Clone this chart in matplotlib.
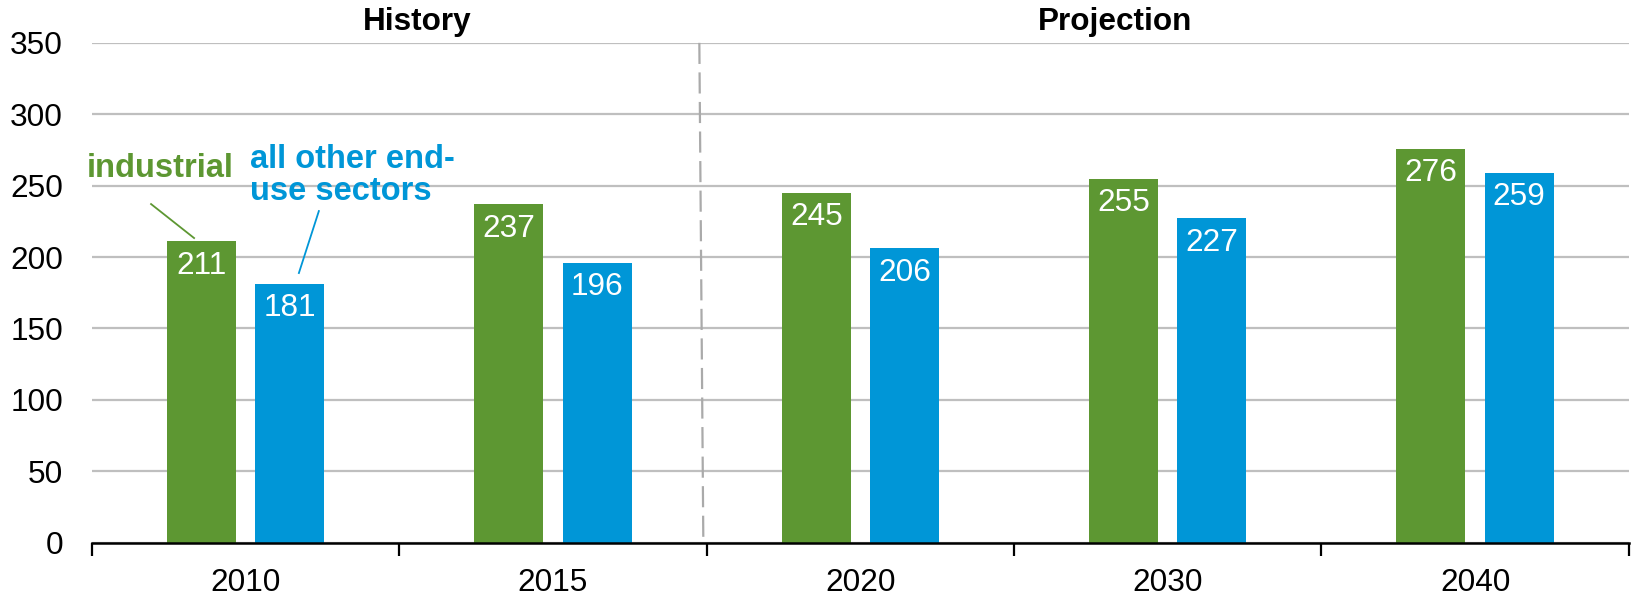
import matplotlib
matplotlib.use("Agg")
import matplotlib.pyplot as plt
from matplotlib.ticker import FixedLocator
import numpy as np

categories = ["2010", "2015", "2020", "2030", "2040"]
industrial = [211, 237, 245, 255, 276]
other_sectors = [181, 196, 206, 227, 259]
y_ticks = [0, 50, 100, 150, 200, 250, 300, 350]
section_labels = ["History", "Projection"]

GREEN = "#5D9732"
BLUE = "#0096D7"
GRID = "#BFBFBF"
FS = 22.7

plt.rcParams['font.family'] = ['Liberation Sans', 'DejaVu Sans']

fig = plt.figure(figsize=(16.32, 5.95), dpi=100)
ax = fig.add_axes([0.0564, 0.088, 0.9416, 0.840])

x = np.arange(len(categories))
w = 0.2245
off = 0.1435
b1 = ax.bar(x - off, industrial, width=w, color=GREEN, zorder=3)
b2 = ax.bar(x + off, other_sectors, width=w, color=BLUE, zorder=3)

for bars, vals in ((b1, industrial), (b2, other_sectors)):
    for r, v in zip(bars, vals):
        ax.annotate(str(v), (r.get_x() + r.get_width() / 2, v),
                    xytext=(0, -17.5), textcoords="offset points",
                    ha="center", va="center", color="white", fontsize=FS, zorder=4)

ax.set_xlim(-0.5, len(categories) - 0.5)
ax.set_ylim(0, 350)
ax.set_yticks(y_ticks)
ax.set_yticklabels([str(t) for t in y_ticks], fontsize=FS)
ax.tick_params(axis="y", length=0, pad=21)
ax.set_xticks(x)
ax.set_xticklabels(categories, fontsize=FS)
ax.xaxis.set_minor_locator(FixedLocator(np.arange(-0.5, len(categories), 1.0)))
ax.tick_params(axis="x", which="major", length=0, pad=18)
ax.tick_params(axis="x", which="minor", length=9, width=1.6, color="black")

ax.grid(axis="y", color=GRID, linewidth=1.6, zorder=0)
ax.set_axisbelow(True)
for s in ("left", "right", "top"):
    ax.spines[s].set_visible(False)
ax.spines["bottom"].set_linewidth(1.8)
ax.spines["bottom"].set_zorder(5)

ax.plot([1.476, 1.489], [350, 0], color="#AAAAAA", linewidth=1.6,
        linestyle=(0, (9.5, 3.8)), zorder=2, clip_on=False)

ax.text(0.559, 359, section_labels[0], ha="center", va="baseline",
        fontsize=FS, fontweight="bold")
ax.text(2.83, 359, section_labels[1], ha="center", va="baseline",
        fontsize=FS, fontweight="bold")

ax.text(-0.279, 262, "industrial", ha="center", va="center", color=GREEN,
        fontsize=23.5, fontweight="bold", zorder=5)
ax.text(0.014, 279, "all other end-\nuse sectors", ha="left", va="top", color=BLUE,
        fontsize=23.5, fontweight="bold", linespacing=1.05, zorder=5)

ax.plot([-0.308, -0.168], [237.1, 213.3], color=GREEN, linewidth=1.3, zorder=5)
ax.plot([0.238, 0.173], [232.2, 188.8], color=BLUE, linewidth=1.3, zorder=5)

fig.savefig("out.png", dpi=100)
